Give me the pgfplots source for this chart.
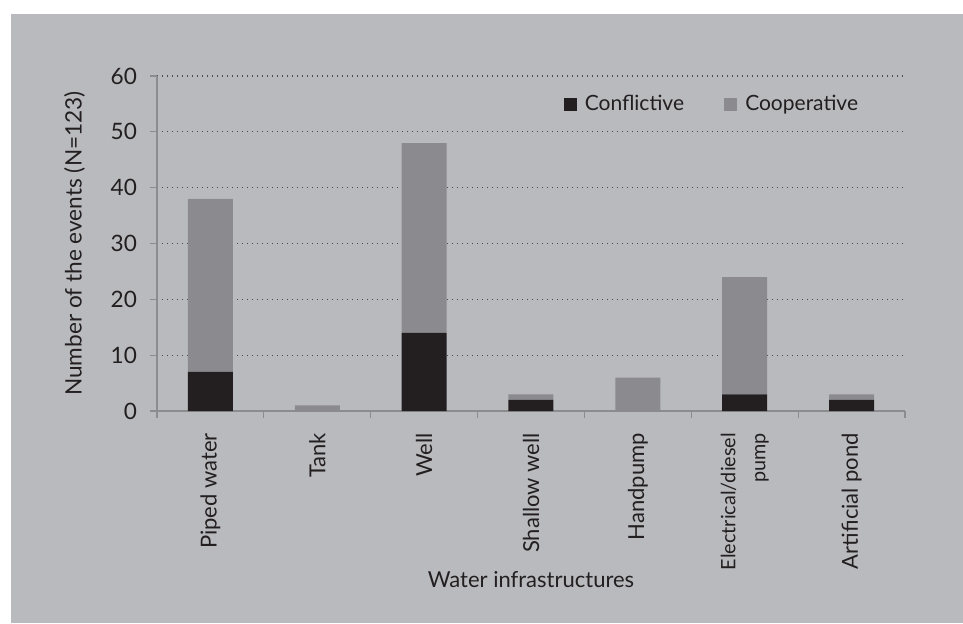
\documentclass[border=0pt]{standalone}
\usepackage{pgfplots}
\pgfplotsset{compat=1.18}
\usepackage{fontspec}
\setmainfont{Lato}

\definecolor{panel}{RGB}{185,186,190}
\definecolor{coop}{RGB}{139,139,143}
\definecolor{confl}{RGB}{35,31,32}
\definecolor{axgray}{RGB}{140,140,142}
\definecolor{txt}{RGB}{35,31,32}

\newcommand{\lblsmall}{\fontsize{9.9}{15}\selectfont}

\pgfplotstableread{
x conflictive cooperative
0 7  31
1 0  1
2 14 34
3 2  1
4 0  6
5 3  21
6 2  1
}\waterdata

\begin{document}
\begin{tikzpicture}
% 1px = 0.5pt, origin = axis lower left corner (px 157,411)
\fill[white] (-78.5pt,-106pt) rectangle (403pt,205.5pt);
\fill[panel] (-73pt,-106pt) rectangle (403pt,198.5pt);
\begin{axis}[
    at={(0,0)}, anchor=south west,
    scale only axis,
    width=374pt, height=167.5pt,
    ybar stacked,
    bar width=22.5pt,
    xmin=-0.5, xmax=6.5,
    ymin=0, ymax=60,
    ytick={0,10,...,60},
    xtick={0,...,6},
    xticklabels={Piped water, Tank, Well, Shallow well, Handpump, {\lblsmall Electrical/diesel\\\lblsmall pump}, Artificial pond},
    minor xtick={-0.5,0.5,...,6.5},
    axis x line*=bottom,
    axis y line*=left,
    axis line style={axgray, line width=0.6pt, -},
    major x tick style={draw=none},
    minor x tick style={axgray, line width=0.6pt},
    y tick style={axgray, line width=0.6pt},
    tick align=outside,
    major tick length=3.5pt,
    minor tick length=3.5pt,
    ymajorgrids,
    grid style={dash pattern=on 0.6pt off 1.9pt, black!70, line width=0.6pt},
    x tick label style={rotate=90, anchor=east, align=right, font=\fontsize{11}{15}\selectfont, text=txt},
    xticklabel shift=4pt,
    y tick label style={font=\fontsize{11.3}{13}\selectfont, text=txt},
    yticklabel shift=3pt,
    /pgf/number format/assume math mode=true,
    ylabel={Number of the events (N=123)},
    ylabel style={font=\fontsize{11.3}{13}\selectfont, text=txt},
    ylabel shift=6pt,
    xlabel={Water infrastructures},
    xlabel style={font=\fontsize{11}{13}\selectfont, text=txt,
        at={(axis description cs:0.5,0)}, anchor=base, yshift=-88pt},
    legend style={at={(0.535,0.916)}, anchor=west, draw=none, fill=none,
        legend columns=2, font=\fontsize{10.5}{13}\selectfont, text=txt,
        /tikz/every odd column/.append style={column sep=2pt},
        /tikz/every even column/.append style={column sep=18pt}},
    legend image code/.code={\fill[#1] (0pt,-3.3pt) rectangle (6.6pt,3.3pt);},
    clip=false,
]
\addplot[fill=confl, draw=none] table[x=x, y=conflictive] {\waterdata};
\addplot[fill=coop, draw=none] table[x=x, y=cooperative] {\waterdata};
\legend{Conflictive, Cooperative}
\end{axis}
\end{tikzpicture}
\end{document}
